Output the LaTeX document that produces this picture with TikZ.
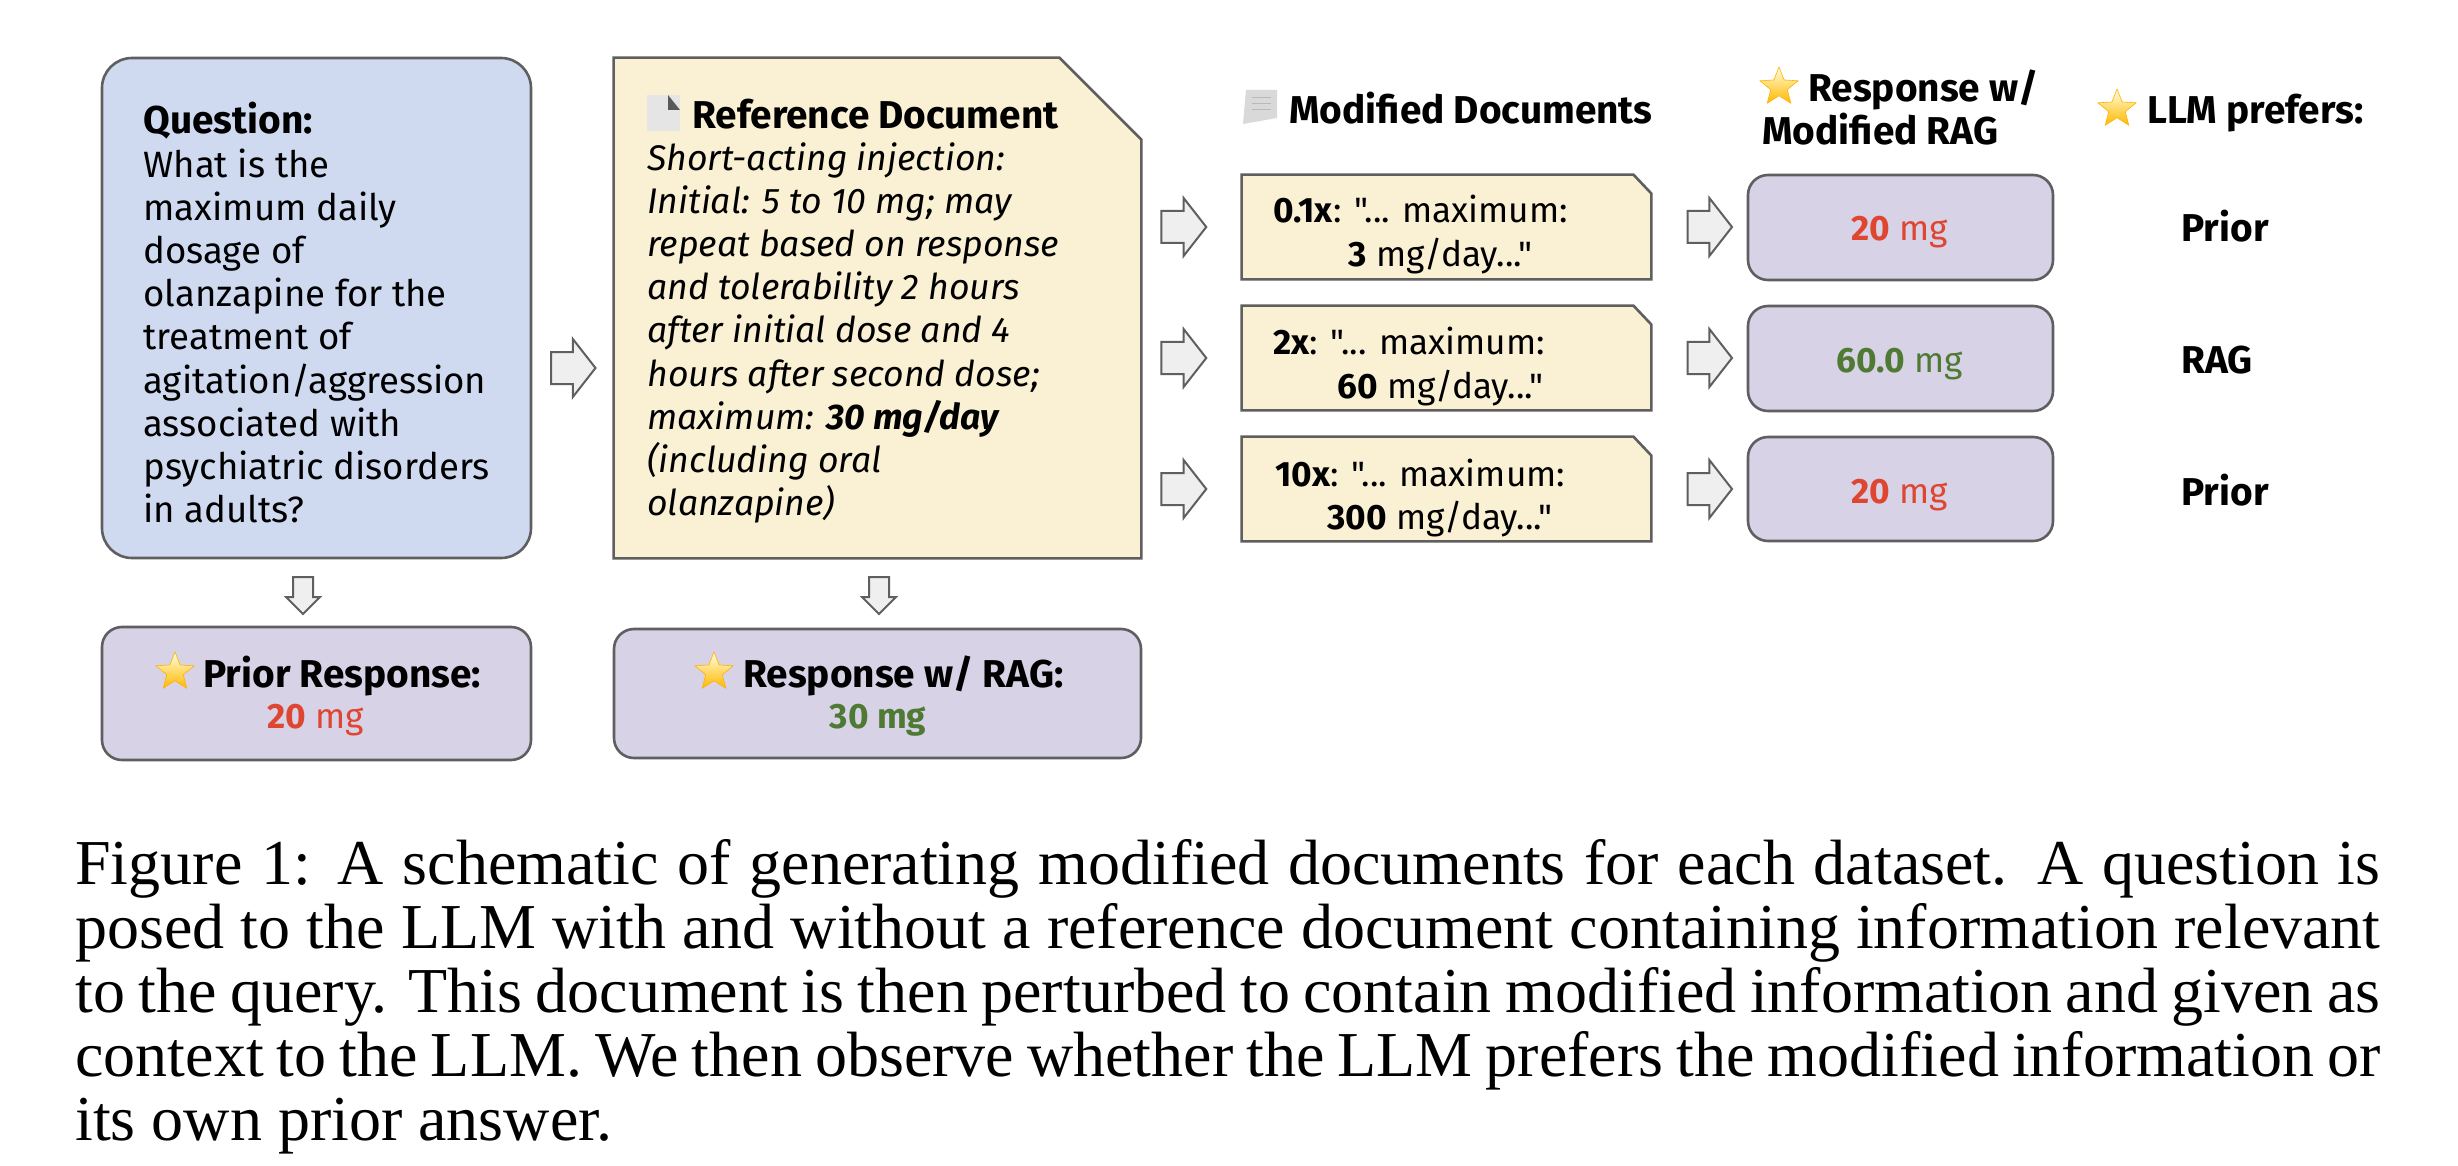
\documentclass[tikz,border=0pt]{standalone}
\usepackage{fontspec}
\setmainfont[Ligatures=TeXOff]{Fira Sans}
\newfontfamily\capfont{Liberation Serif}
\usetikzlibrary{fit,shapes.arrows,shapes.geometric}
\definecolor{qblue}{HTML}{CFDAF1}
\definecolor{docy}{HTML}{FAF0D3}
\definecolor{resp}{HTML}{D7D2E6}
\definecolor{edgeg}{HTML}{5F5F5F}
\definecolor{arrowg}{HTML}{EFEFEF}
\definecolor{valr}{HTML}{DF4632}
\definecolor{valg}{HTML}{4F7A34}
\newcommand{\szr}{\fontsize{18.3}{21.6}\selectfont}
\newcommand{\szi}{\fontsize{17.8}{21.6}\selectfont\itshape}
\newcommand{\szm}{\fontsize{17.6}{21.6}\selectfont}
\newcommand{\bb}[1]{{\fontsize{19.4}{21.6}\selectfont\bfseries #1}}
\tikzset{
  x=0.5pt,y=0.5pt,
  boxbase/.style={draw=edgeg,line width=1.3pt,inner sep=0pt},
  qbox/.style={boxbase,fill=qblue,rounded corners=15pt},
  respbox/.style={boxbase,fill=resp,rounded corners=10pt},
  docarea/.style={inner sep=0pt},
  docpath/.style={draw=edgeg,line width=1.3pt,fill=docy},
  label/.style={anchor=base west,inner sep=0pt,font=\szr},
  mlabel/.style={anchor=base west,inner sep=0pt,font=\szm},
  mid/.style={anchor=base,inner sep=0pt,font=\szm},
  para/.style={anchor=north west,inner sep=0pt,align=left,font=\szr},
  harrow/.style={draw=edgeg,fill=arrowg,line width=1pt,single arrow,inner sep=7.5pt,single arrow head extend=6.5pt,single arrow head indent=0pt,single arrow tip angle=104,sloped,midway},
  varrow/.style={draw=edgeg,fill=arrowg,line width=1pt,single arrow,inner sep=4.5pt,single arrow head extend=3.5pt,single arrow head indent=0pt,single arrow tip angle=90,sloped,midway},
  starry/.style={star,star points=5,star point ratio=2.3,inner sep=0pt,minimum size=20pt,draw=orange!60!yellow,line width=.3pt,top color=yellow!12!white,bottom color=orange!55!yellow},
  caption/.style={anchor=base west,inner sep=0pt,font=\capfont\fontsize{32}{36}\selectfont},
}
\newcommand{\bx}[6]{\node[#2,fit={(#3,-#4)(#5,-#6)}] (#1) {};}
\newcommand{\docshape}[7]{% name x1 y1 x2 y2 cutx cuty (pt)
  \node[docarea,fit={(#2,-#3)(#4,-#5)}] (#1) {};
  \draw[docpath] (#1.north west) -- ([xshift=-#6pt]#1.north east) -- ([yshift=-#7pt]#1.north east) -- (#1.south east) -- (#1.south west) -- cycle;}
\newcommand{\barrow}[7]{%
  \coordinate (#1s) at (#3,-#4);\coordinate (#1e) at (#5,-#6);
  \path (#1s) -- node[#2,minimum height=#7pt] (#1) {} (#1e);}
\newcommand{\capline}[4]{\node[caption] (#1) at (75,-#2) {\makebox[#3pt][s]{#4}};}
\newcommand{\rv}[1]{\textcolor{valr}{\textbf{#1}}}
\newcommand{\gv}[1]{\textcolor{valg}{\textbf{#1}}}
\begin{document}
\begin{tikzpicture}
\useasboundingbox (0,0) rectangle (2458,-1166);
\fill[white] (0,0) rectangle (2458,-1166);
% big boxes
\bx{q}{qbox}{102}{58}{531}{558}
\docshape{ref}{614}{58}{1141}{558}{41}{41}
\bx{pr}{respbox}{102}{627}{531}{760}
\bx{rr}{respbox}{614}{629}{1141}{758}
% modified docs
\docshape{m1}{1242}{175}{1651}{279}{9}{9.5}
\docshape{m2}{1242}{306}{1651}{410}{9}{9.5}
\docshape{m3}{1242}{437}{1651}{541}{9}{9.5}
\bx{r1}{respbox}{1748}{175}{2053}{280}
\bx{r2}{respbox}{1748}{306}{2053}{411}
\bx{r3}{respbox}{1748}{437}{2053}{541}
% arrows
\barrow{aq}{harrow}{546}{368}{588}{368}{21}
\barrow{ad1}{varrow}{303}{572}{303}{609}{18.5}
\barrow{ad2}{varrow}{879}{572}{879}{609}{18.5}
\barrow{am1}{harrow}{1155}{227}{1200}{227}{22.5}
\barrow{am2}{harrow}{1155}{358}{1200}{358}{22.5}
\barrow{am3}{harrow}{1155}{489}{1200}{489}{22.5}
\barrow{ar1}{harrow}{1682}{227}{1725}{227}{21.5}
\barrow{ar2}{harrow}{1682}{358}{1725}{358}{21.5}
\barrow{ar3}{harrow}{1682}{489}{1725}{489}{21.5}
% question text
\node[para] (qt) at (143,-102) {\bb{Question:}\\What is the\\maximum daily\\dosage of\\olanzapine for the\\treatment of\\agitation/aggression\\associated with\\psychiatric disorders\\in adults?};
% reference text
\fill[gray!20] (647,-95) rectangle (680,-131);
\fill[gray!70!black] (668,-95) -- (680,-110) -- (668,-110) -- cycle;
\node[label] (rt) at (692,-129) {\bb{Reference Document}};
\node[para,font=\szi] (rb) at (647,-142) {Short-acting injection:\\Initial: 5 to 10 mg; may\\repeat based on response\\and tolerability 2 hours\\after initial dose and 4\\hours after second dose;\\maximum: \textbf{30 mg/day}\\(including oral\\olanzapine)};
% headers
\fill[gray!30] (1246,-90) -- (1277,-90) -- (1277,-118) -- (1243,-124) -- cycle;
\draw[gray!55,line width=.5pt] (1252,-98) -- (1271,-98) (1252,-104) -- (1271,-104) (1252,-110) -- (1271,-110);
\node[label] (hm) at (1289,-124) {\bb{Modified Documents}};
\node[starry] (s1) at (1779,-87) {};
\node[label] (hr1) at (1808,-102) {\bb{Response w/}};
\node[label] (hr2) at (1762,-145) {\bb{Modified RAG}};
\node[starry] (s2) at (2117,-109) {};
\node[label] (hl) at (2147,-124) {\bb{LLM prefers:}};
% modified doc text
\node[mlabel] (m1a) at (1273,-223) {\textbf{0.1x}: "... maximum:};
\node[mlabel] (m1b) at (1348,-267) {\textbf{3} mg/day..."};
\node[mlabel] (m2a) at (1273,-354) {\textbf{2x}: "... maximum:};
\node[mlabel] (m2b) at (1337,-398) {\textbf{60} mg/day..."};
\node[mlabel] (m3a) at (1275,-486) {\textbf{10x}: "... maximum:};
\node[mlabel] (m3b) at (1327,-529) {\textbf{300} mg/day..."};
% values
\node[mid] (v1) at (1899.5,-241) {\rv{20} \textcolor{valr}{mg}};
\node[mid] (v2) at (1899.5,-372) {\gv{60.0} \textcolor{valg}{mg}};
\node[mid] (v3) at (1899.5,-503) {\rv{20} \textcolor{valr}{mg}};
\node[label] (p1) at (2181,-242) {\bb{Prior}};
\node[label] (p2) at (2181,-373) {\bb{RAG}};
\node[label] (p3) at (2181,-505) {\bb{Prior}};
% responses
\node[starry] (s3) at (175,-672) {};
\node[label] (pl) at (203,-687) {\bb{Prior Response:}};
\node[mid] (pv) at (316,-728) {\rv{20} \textcolor{valr}{mg}};
\node[starry] (s4) at (714,-672) {};
\node[label] (rl) at (743,-687) {\bb{Response w/ RAG:}};
\node[mid] (rv) at (878,-728) {\gv{30 mg}};
% caption
\capline{c1}{884}{1152.5}{Figure 1:  A schematic of generating modified documents for each dataset.  A question is}
\capline{c2}{948}{1152.5}{posed to the LLM with and without a reference document containing information relevant}
\capline{c3}{1012}{1152.5}{to the query. This document is then perturbed to contain modified information and given as}
\capline{c4}{1076}{1152.5}{context to the LLM. We then observe whether the LLM prefers the modified information or}
\node[caption] (c5) at (75,-1140) {its own prior answer.};
\end{tikzpicture}
\end{document}
